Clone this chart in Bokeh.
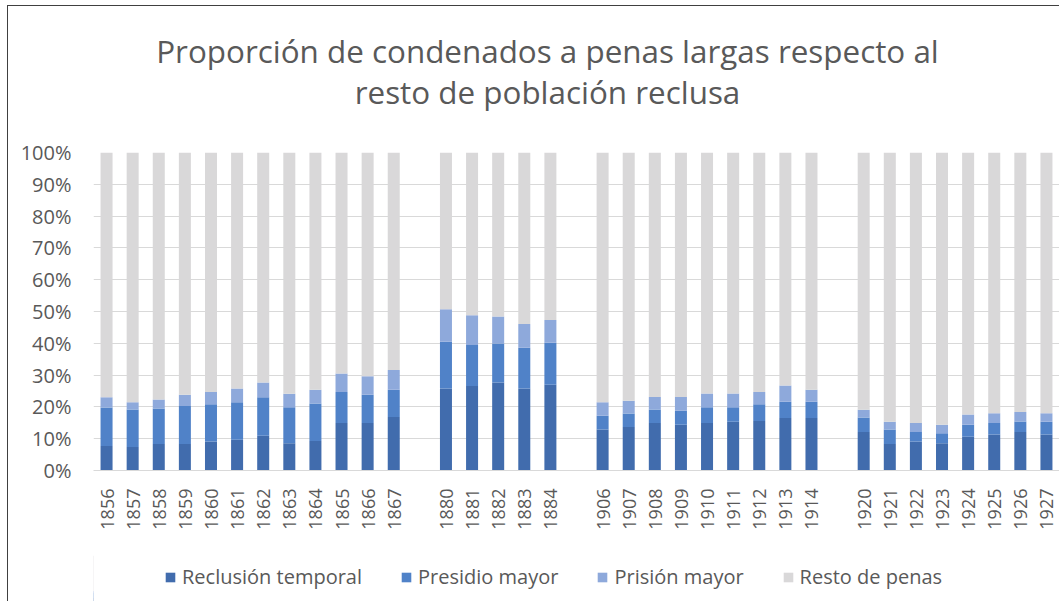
from bokeh.plotting import figure
from bokeh.layouts import column
from bokeh.models import (FactorRange, NumeralTickFormatter, Legend, LegendItem, Label,
                          FixedTicker, ColumnDataSource)
from bokeh.embed import file_html
from bokeh.resources import INLINE
from math import pi

title_lines = ["Proporción de condenados a penas largas respecto al", "resto de población reclusa"]

years_a = ["1856", "1857", "1858", "1859", "1860", "1861", "1862", "1863", "1864", "1865", "1866", "1867"]
years_b = ["1880", "1881", "1882", "1883", "1884"]
years_c = ["1906", "1907", "1908", "1909", "1910", "1911", "1912", "1913", "1914"]
years_d = ["1920", "1921", "1922", "1923", "1924", "1925", "1926", "1927"]
years = years_a + years_b + years_c + years_d
factors = years_a + [" "] + years_b + ["  "] + years_c + ["   "] + years_d

series_names = ["Reclusión temporal", "Presidio mayor", "Prisión mayor", "Resto de penas"]
colors = ["#416CAD", "#5082C8", "#8EA9DB", "#D9D8D9"]

# percent values
reclusion = [7.7, 7.4, 8.3, 8.3, 9.1, 9.7, 10.9, 8.6, 9.3, 14.9, 14.9, 16.8,
             25.8, 26.6, 27.7, 25.8, 27.0,
             12.9, 13.7, 14.9, 14.4, 14.9, 15.3, 15.6, 16.5, 16.5,
             12.1, 8.3, 9.1, 8.6, 10.6, 11.3, 12.1, 11.3]
presidio = [12.1, 11.8, 11.2, 12.0, 11.7, 11.8, 12.1, 11.3, 11.8, 9.8, 8.9, 8.6,
            14.7, 12.9, 12.2, 12.8, 13.2,
            4.3, 4.2, 4.3, 4.4, 5.0, 4.6, 5.2, 5.1, 5.1,
            4.6, 4.6, 3.0, 3.1, 3.8, 3.6, 3.3, 4.0]
prision = [3.2, 2.3, 2.8, 3.5, 3.9, 4.3, 4.7, 4.2, 4.3, 5.8, 5.8, 6.2,
           10.2, 9.3, 8.5, 7.5, 7.1,
           4.3, 4.0, 3.9, 4.3, 4.3, 4.3, 3.9, 5.1, 3.8,
           2.4, 2.4, 2.8, 2.7, 3.2, 3.1, 3.0, 2.7]
resto = [77.0, 78.5, 77.7, 76.2, 75.3, 74.2, 72.3, 75.9, 74.6, 69.5, 70.4, 68.4,
         49.3, 51.2, 51.6, 53.9, 52.7,
         78.5, 78.1, 76.9, 76.9, 75.8, 75.8, 75.3, 73.3, 74.6,
         80.9, 84.7, 85.1, 85.6, 82.4, 82.0, 81.6, 82.0]

y_ticks = [0.0, 0.1, 0.2, 0.3, 0.4, 0.5, 0.6, 0.7, 0.8, 0.9, 1.0]

FONT = "Open Sans"
TXT = "#595959"
W = 1051

keys = ["s0", "s1", "s2", "s3"]
series = [reclusion, presidio, prision, resto]
data = {"year": years}
for k, arr in zip(keys, series):
    data[k] = [v / 100.0 for v in arr]
source = ColumnDataSource(data)


def bare(height):
    f = figure(width=W, height=height, x_range=(0, 1), y_range=(0, 1),
               output_backend="svg", toolbar_location=None, title=None,
               x_axis_location=None, y_axis_location=None, min_border=0)
    f.outline_line_color = None
    f.background_fill_color = "white"
    f.border_fill_color = "white"
    f.grid.visible = False
    return f


# ---- title strip
t = bare(124)
for i, line in enumerate(title_lines):
    t.add_layout(Label(x=454, y=80 - i * 41, x_units="screen", y_units="screen", text=line,
                       text_align="center", text_baseline="alphabetic",
                       text_font=FONT, text_font_size="31.4px", text_color=TXT))

# ---- main chart
p = figure(width=W, height=425, x_range=FactorRange(*factors, range_padding=0),
           y_range=(0, 1), output_backend="svg", toolbar_location=None,
           title=None, min_border_left=85, min_border_right=0, min_border_top=22,
           min_border_bottom=85)
p.outline_line_color = None
p.background_fill_color = "white"
p.border_fill_color = "white"

renderers = p.vbar_stack(keys, x="year", width=0.46, color=colors, source=source, line_width=0)

p.xgrid.grid_line_color = None
p.ygrid.grid_line_color = "#D9D9D9"
p.ygrid.grid_line_width = 1.2
p.ygrid.ticker = FixedTicker(ticks=y_ticks)

p.yaxis.ticker = FixedTicker(ticks=y_ticks)
p.yaxis.formatter = NumeralTickFormatter(format="0%")
p.yaxis.axis_line_color = None
p.yaxis.major_tick_line_color = None
p.yaxis.minor_tick_line_color = None
p.yaxis.major_label_standoff = 16
p.yaxis.major_label_text_font = FONT
p.yaxis.major_label_text_font_size = "20px"
p.yaxis.major_label_text_color = TXT

p.xaxis.axis_line_color = "#D9D9D9"
p.xaxis.axis_line_width = 1.2
p.xaxis.major_tick_line_color = None
p.xaxis.minor_tick_line_color = None
p.xaxis.major_label_orientation = pi / 2
p.xaxis.major_label_standoff = 12
p.xaxis.major_label_text_font = FONT
p.xaxis.major_label_text_font_size = "18px"
p.xaxis.major_label_text_color = TXT

# ---- legend strip: a one-row stack kept outside the visible range only carries the colours
lg = bare(46)
helper = {"x": [-5.0]}
for k, arr in zip(keys, series):
    helper[k] = [arr[0] / 100.0]
lrenderers = lg.vbar_stack(keys, x="x", width=0.5, color=colors,
                           source=ColumnDataSource(helper), line_width=0)
items = [LegendItem(label=n, renderers=[r], index=0) for n, r in zip(series_names, lrenderers)]
legend = Legend(items=items, orientation="horizontal", location=(71, 11),
                glyph_width=12, glyph_height=12, label_standoff=6, spacing=38,
                label_height=12, padding=0, margin=0, border_line_color=None,
                background_fill_alpha=0,
                label_text_font=FONT, label_text_font_size="20px", label_text_color=TXT)
lg.add_layout(legend, "center")

layout = column(t, p, lg, spacing=0,
                styles={"margin-left": "7px", "margin-top": "5px",
                        "border-left": "1px solid #404040", "border-top": "1px solid #404040"})

open("out.html", "w").write(file_html(layout, INLINE))
